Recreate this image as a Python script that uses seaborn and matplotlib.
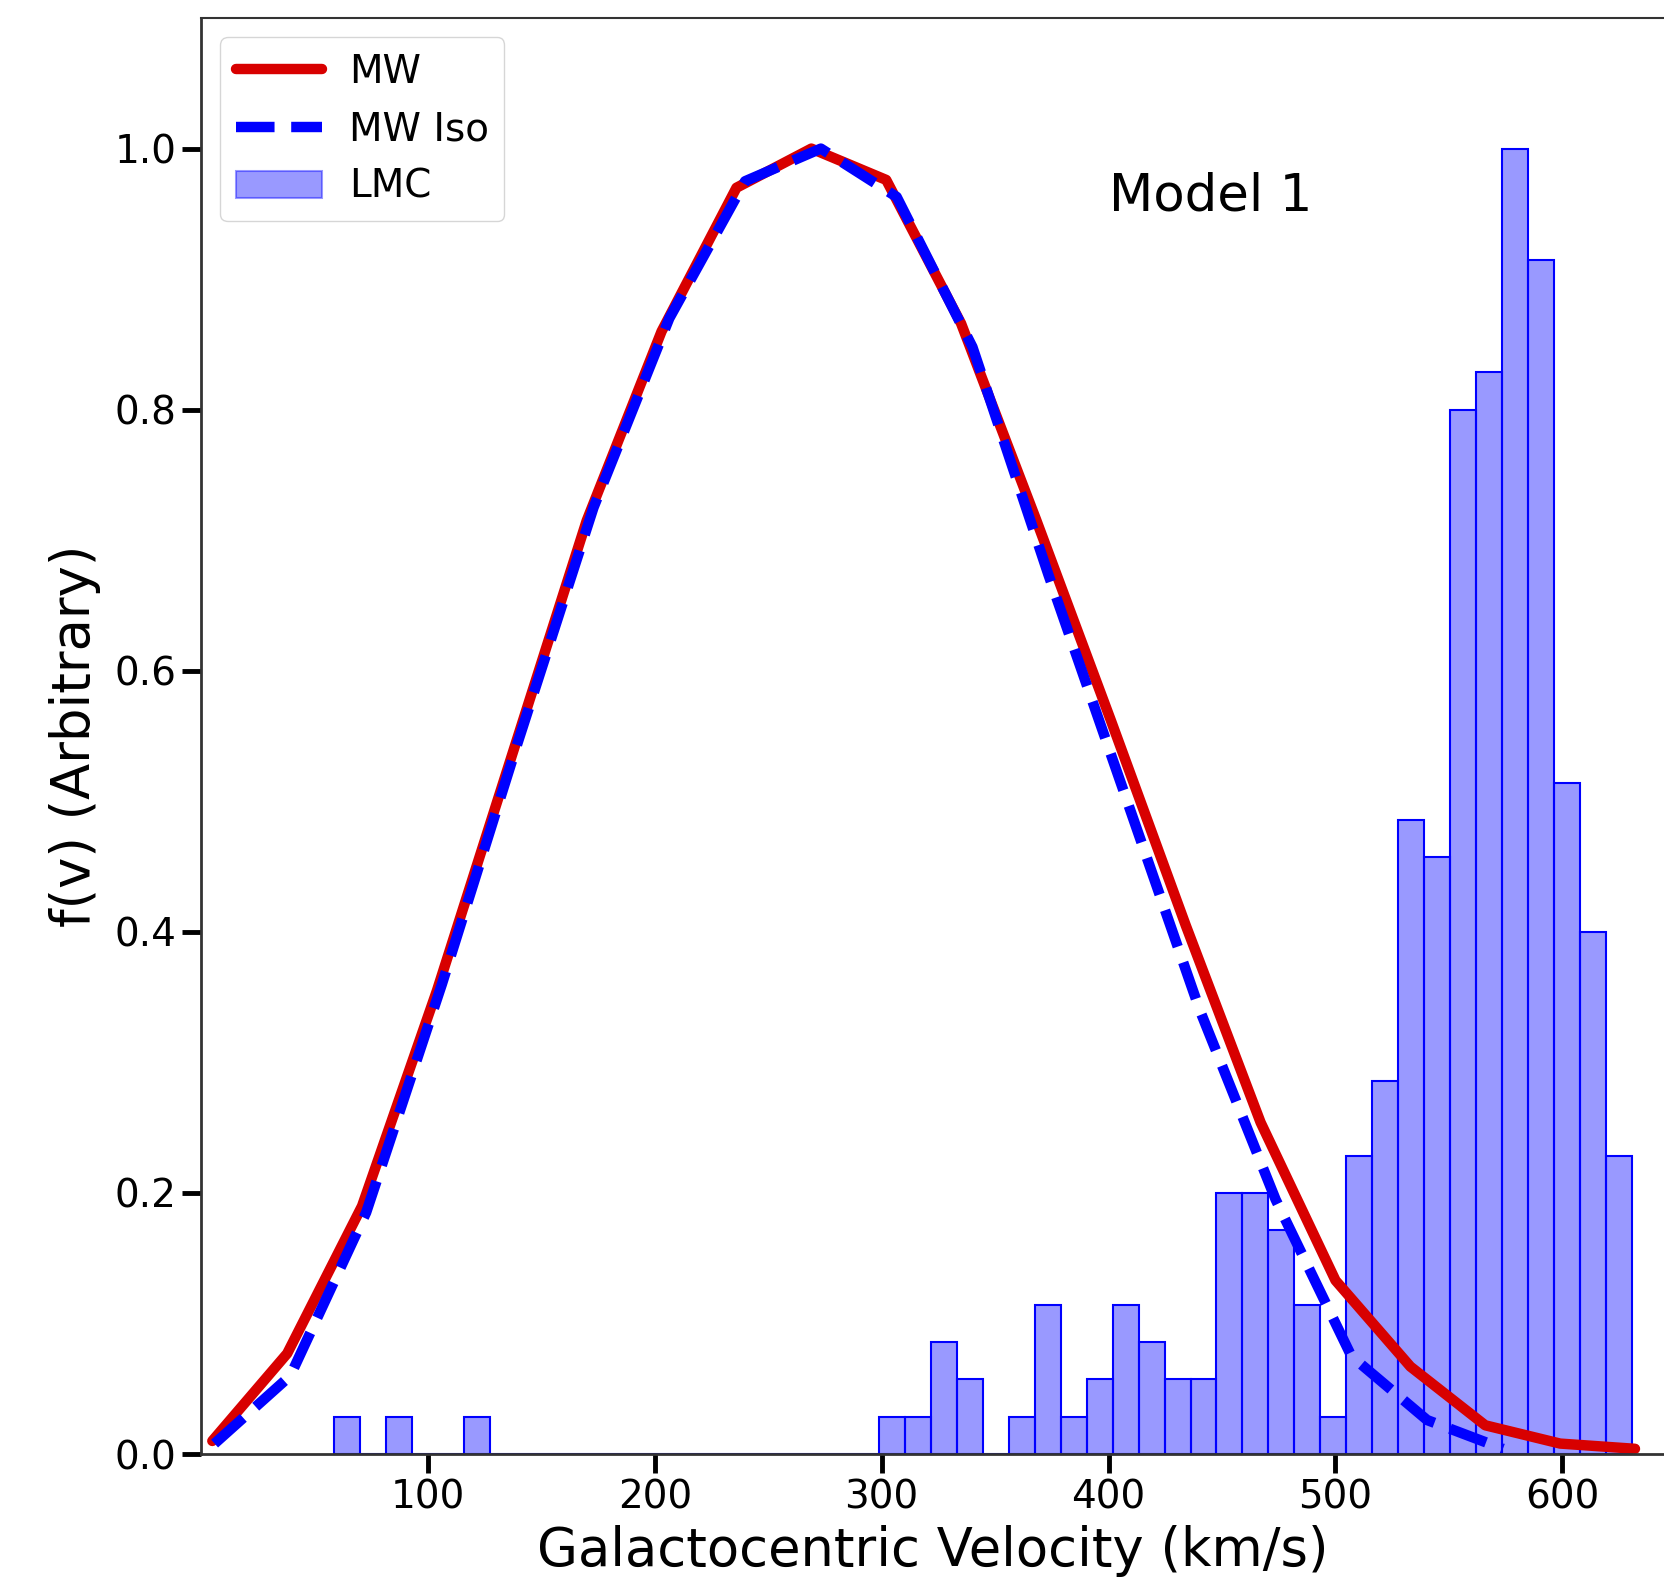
import numpy as np
import matplotlib
matplotlib.use("Agg")
import matplotlib.pyplot as plt
from matplotlib.patches import Patch
import seaborn as sns

# MW velocity distribution (normalised)
mw_v = [5, 38, 71, 104, 137, 170, 203, 236, 269, 302,
        335, 368, 401, 434, 467, 500, 533, 566, 599, 632]
mw_f = [0.010, 0.077, 0.190, 0.355, 0.535, 0.715, 0.860, 0.970, 1.000, 0.976,
        0.866, 0.716, 0.562, 0.405, 0.254, 0.133, 0.067, 0.022, 0.008, 0.004]

# MW isothermal model
iso_v = [6.0, 39.4, 72.8, 106.2, 139.6, 173.0, 206.4, 239.8, 273.2,
         306.6, 340.0, 373.4, 406.8, 440.2, 473.6, 507.0, 540.4, 573.8]
iso_f = [0.008, 0.060, 0.185, 0.360, 0.545, 0.725, 0.870, 0.975, 1.000,
         0.963, 0.848, 0.674, 0.507, 0.340, 0.195, 0.075, 0.026, 0.004]

# LMC histogram: 50 bins between 58.6 and 630.6 km/s, counts per bin
lmc_lo, lmc_hi, lmc_nbins = 58.6, 630.6, 50
lmc_counts = [1, 0, 1, 0, 0, 1, 0, 0, 0, 0,
              0, 0, 0, 0, 0, 0, 0, 0, 0, 0,
              0, 1, 1, 3, 2, 0, 1, 4, 1, 2,
              4, 3, 2, 2, 7, 7, 6, 4, 1, 8,
              10, 17, 16, 28, 29, 35, 32, 18, 14, 8]


def main():
    sns.set_style("ticks")
    plt.rcParams["font.family"] = ["DejaVu Sans"]
    plt.rcParams["text.color"] = "black"
    plt.rcParams["axes.labelcolor"] = "black"
    plt.rcParams["xtick.color"] = "black"
    plt.rcParams["ytick.color"] = "black"

    edges = np.linspace(lmc_lo, lmc_hi, lmc_nbins + 1)
    centers = 0.5 * (edges[:-1] + edges[1:])
    counts = np.array(lmc_counts, dtype=float)
    weights = counts / counts.max()

    fig = plt.figure(figsize=(16.65, 15.82), dpi=100)
    ax = fig.add_axes([0.1207, 0.0809, 0.879, 0.9077])

    sns.lineplot(x=mw_v, y=mw_f, color="#d80000", lw=7.5, sort=False,
                 estimator=None, ax=ax)
    sns.lineplot(x=iso_v, y=iso_f, color="#0000ff", lw=7.5, linestyle="--",
                 sort=False, estimator=None, ax=ax)
    sns.histplot(x=list(centers), weights=list(weights), bins=list(edges),
                 color="blue", alpha=0.4, edgecolor="blue", linewidth=1.5,
                 ax=ax)

    ax.set_xlim(0, 645)
    ax.set_ylim(0, 1.1)
    ax.set_xticks([100, 200, 300, 400, 500, 600])
    ax.set_yticks([0.0, 0.2, 0.4, 0.6, 0.8, 1.0])
    ax.set_yticklabels(["0.0", "0.2", "0.4", "0.6", "0.8", "1.0"])
    ax.tick_params(axis="both", labelsize=28, length=14, width=3.5,
                   direction="out", color="black", labelcolor="black")
    ax.spines["right"].set_visible(False)
    for s in ["left", "bottom"]:
        ax.spines[s].set_linewidth(2.0)
        ax.spines[s].set_color("#333333")
    ax.spines["top"].set_linewidth(1.5)
    ax.spines["top"].set_color("#333333")

    ax.set_xlabel("Galactocentric Velocity (km/s)", fontsize=38, labelpad=6)
    ax.set_ylabel("f(v) (Arbitrary)", fontsize=38, labelpad=10)

    ax.text(445, 0.963, "Model 1", fontsize=37, ha="center", va="center")

    handles = [
        plt.Line2D([], [], color="#d80000", lw=7.5),
        plt.Line2D([], [], color="#0000ff", lw=7.5, linestyle="--"),
        Patch(facecolor="blue", edgecolor="blue", alpha=0.4, linewidth=1.5),
    ]
    leg = ax.legend(handles, ["MW", "MW Iso", "LMC"], loc="upper left",
                    fontsize=28, handlelength=2.2, handletextpad=0.7,
                    frameon=True)
    for t in leg.get_texts():
        t.set_color("black")

    fig.savefig("out.png", dpi=100)


if __name__ == "__main__":
    main()
